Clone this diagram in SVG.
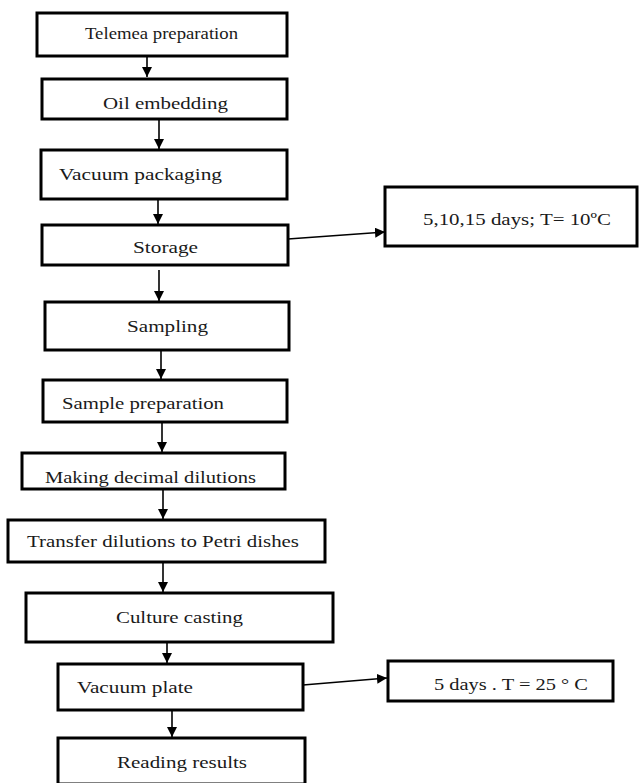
<svg xmlns="http://www.w3.org/2000/svg" width="641" height="783" viewBox="0 0 641 783">
<style>
.box{fill:#fff;stroke:#000;stroke-width:3}
.lbl{font-family:"Liberation Serif","Times New Roman",serif;font-size:17px;fill:#1a1a1a}
.con{stroke:#000;stroke-width:1.6;fill:none}
</style>
<defs>
<marker id="ah" markerUnits="userSpaceOnUse" markerWidth="10" markerHeight="10" viewBox="0 0 10 10" refX="10" refY="5" orient="auto">
<path d="M0,0 L10,5 L0,10 z" fill="#000"/>
</marker>
</defs>
<rect width="641" height="783" fill="#fff"/>
<g id="connectors">
<line class="con" x1="147" y1="56" x2="147" y2="77" marker-end="url(#ah)"/>
<line class="con" x1="159" y1="119" x2="159" y2="149" marker-end="url(#ah)"/>
<line class="con" x1="158" y1="193" x2="158" y2="224" marker-end="url(#ah)"/>
<line class="con" x1="159" y1="270" x2="159" y2="301" marker-end="url(#ah)"/>
<line class="con" x1="161" y1="343" x2="161" y2="379" marker-end="url(#ah)"/>
<line class="con" x1="162" y1="422" x2="162" y2="452" marker-end="url(#ah)"/>
<line class="con" x1="163" y1="489" x2="163" y2="519" marker-end="url(#ah)"/>
<line class="con" x1="163" y1="562" x2="163" y2="592" marker-end="url(#ah)"/>
<line class="con" x1="167" y1="642" x2="167" y2="663" marker-end="url(#ah)"/>
<line class="con" x1="172" y1="710" x2="172" y2="737" marker-end="url(#ah)"/>
<line class="con" x1="288" y1="239" x2="385" y2="232" marker-end="url(#ah)"/>
<line class="con" x1="303" y1="685" x2="387" y2="678" marker-end="url(#ah)"/>
</g>
<g id="n1"><rect class="box" x="37" y="13" width="250" height="43"/><text class="lbl" x="85" y="39" textLength="153" lengthAdjust="spacingAndGlyphs">Telemea preparation</text></g>
<g id="n2"><rect class="box" x="42" y="79" width="245" height="40"/><text class="lbl" x="103" y="109" textLength="125" lengthAdjust="spacingAndGlyphs">Oil embedding</text></g>
<g id="n3"><rect class="box" x="41" y="150" width="246" height="49"/><text class="lbl" x="59" y="180" textLength="163" lengthAdjust="spacingAndGlyphs">Vacuum packaging</text></g>
<g id="n4"><rect class="box" x="42" y="225" width="246" height="40"/><text class="lbl" x="133" y="253" textLength="65" lengthAdjust="spacingAndGlyphs">Storage</text></g>
<g id="n5"><rect class="box" x="45" y="302" width="244" height="48"/><text class="lbl" x="127" y="332" textLength="81" lengthAdjust="spacingAndGlyphs">Sampling</text></g>
<g id="n6"><rect class="box" x="43" y="380" width="244" height="42"/><text class="lbl" x="62" y="409" textLength="162" lengthAdjust="spacingAndGlyphs">Sample preparation</text></g>
<g id="n7"><rect class="box" x="22" y="453" width="263" height="36"/><text class="lbl" x="45" y="483" textLength="211" lengthAdjust="spacingAndGlyphs">Making decimal dilutions</text></g>
<g id="n8"><rect class="box" x="8" y="520" width="317" height="42"/><text class="lbl" x="27" y="547" textLength="272" lengthAdjust="spacingAndGlyphs">Transfer dilutions to Petri dishes</text></g>
<g id="n9"><rect class="box" x="26" y="593" width="307" height="49"/><text class="lbl" x="116" y="623" textLength="127" lengthAdjust="spacingAndGlyphs">Culture casting</text></g>
<g id="n10"><rect class="box" x="58" y="664" width="245" height="46"/><text class="lbl" x="77" y="693" textLength="116" lengthAdjust="spacingAndGlyphs">Vacuum plate</text></g>
<g id="n11"><rect class="box" x="58" y="738" width="247" height="46"/><text class="lbl" x="117" y="768" textLength="130" lengthAdjust="spacingAndGlyphs">Reading results</text></g>
<g id="n12"><rect class="box" x="385" y="187" width="252" height="59"/><text class="lbl" x="423" y="225" textLength="188" lengthAdjust="spacingAndGlyphs">5,10,15 days; T= 10ºC</text></g>
<g id="n13"><rect class="box" x="388" y="661" width="225" height="40"/><text class="lbl" x="434" y="690" textLength="154" lengthAdjust="spacingAndGlyphs">5 days . T = 25 ° C</text></g>
</svg>
